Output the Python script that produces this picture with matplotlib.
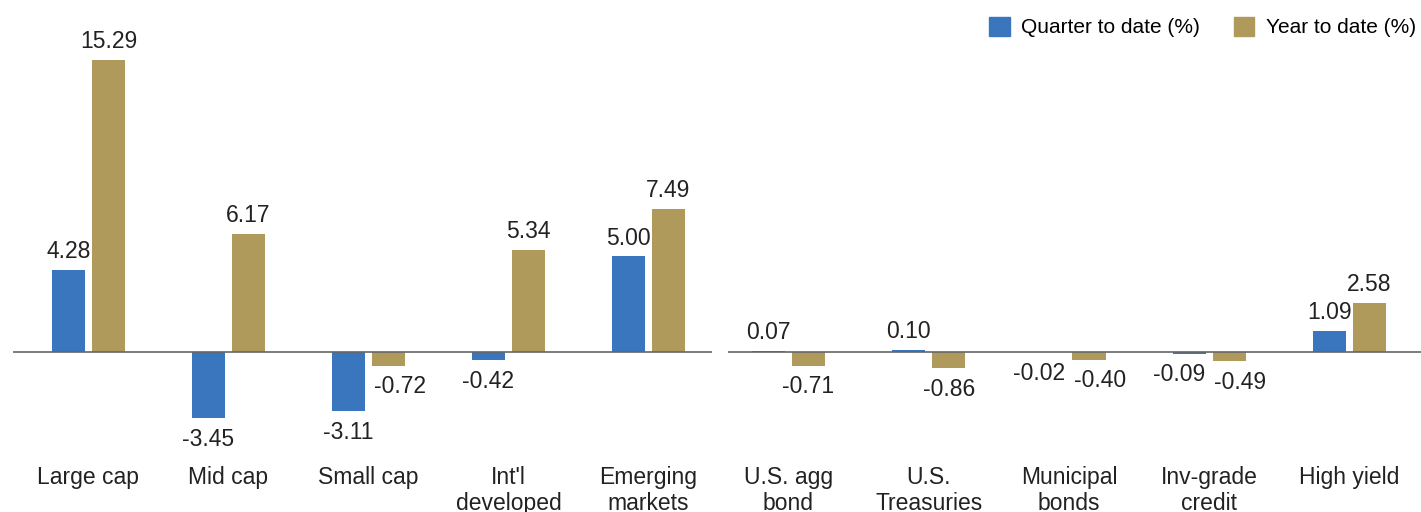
import numpy as np
import matplotlib
matplotlib.use("Agg")
import matplotlib.pyplot as plt
from matplotlib.patches import Patch

plt.rcParams['font.family'] = ['Liberation Sans', 'DejaVu Sans']

# equities panel
eq_labels = ["Large cap", "Mid cap", "Small cap", "Int'l\ndeveloped", "Emerging\nmarkets"]
eq_qtd = [4.28, -3.45, -3.11, -0.42, 5.00]
eq_ytd = [15.29, 6.17, -0.72, 5.34, 7.49]

# fixed income panel
fi_labels = ["U.S. agg\nbond", "U.S.\nTreasuries", "Municipal\nbonds", "Inv-grade\ncredit", "High yield"]
fi_qtd = [0.07, 0.10, -0.02, -0.09, 1.09]
fi_ytd = [-0.71, -0.86, -0.40, -0.49, 2.58]

BLUE = "#3a76bd"
GOLD = "#b09a5b"
W = 0.236
OFF = 0.143

fig = plt.figure(figsize=(14.21, 5.12), dpi=100)
ax1 = fig.add_axes([13 / 1421, 72 / 512, 699 / 1421, 385 / 512])
ax2 = fig.add_axes([728 / 1421, 72 / 512, 693 / 1421, 385 / 512])


def fmt(v):
    return f"{v:.2f}"


def draw(ax, labels, qtd, ytd, xlim):
    x = np.arange(len(labels))
    ax.bar(x - OFF, qtd, W, color=BLUE)
    ax.bar(x + OFF, ytd, W, color=GOLD)
    ax.axhline(0, color="#666666", lw=1.2)
    for i in range(len(labels)):
        q, y = qtd[i], ytd[i]
        dq, dy = 0.0, 0.0
        # nudge labels apart where they would collide
        if q < 0 and y < 0:
            if q < y - 1:
                dy = 0.08
            else:
                dq, dy = -0.07, 0.08
        for xi, v, d in ((x[i] - OFF, q, dq), (x[i] + OFF, y, dy)):
            if v >= 0:
                ax.annotate(fmt(v), (xi + d, v), xytext=(0, 5), textcoords="offset points",
                            ha="center", va="bottom", fontsize=16.5, color="#222222")
            else:
                ax.annotate(fmt(v), (xi + d, v), xytext=(0, -7), textcoords="offset points",
                            ha="center", va="top", fontsize=16.5, color="#222222")
    ax.set_xticks(x)
    ax.set_xticklabels(labels, fontsize=16.5, color="#222222", linespacing=1.15)
    ax.tick_params(axis="x", length=0, pad=19)
    ax.set_yticks([])
    for s in ax.spines.values():
        s.set_visible(False)
    ax.set_xlim(*xlim)
    ax.set_ylim(-4.61, 15.55)


draw(ax1, eq_labels, eq_qtd, eq_ytd, (-0.539, 4.454))
draw(ax2, fi_labels, fi_qtd, fi_ytd, (-0.431, 4.51))

handles = [Patch(color=BLUE, label="Quarter to date (%)"),
           Patch(color=GOLD, label="Year to date (%)")]
fig.legend(handles=handles, loc="upper right", bbox_to_anchor=(1416 / 1421, 1 - 17 / 512),
           ncol=2, frameon=False, fontsize=15, handlelength=1.0, handleheight=1.0,
           handletextpad=0.55, columnspacing=1.6, borderpad=0, borderaxespad=0)

fig.savefig("out.png", dpi=100)
